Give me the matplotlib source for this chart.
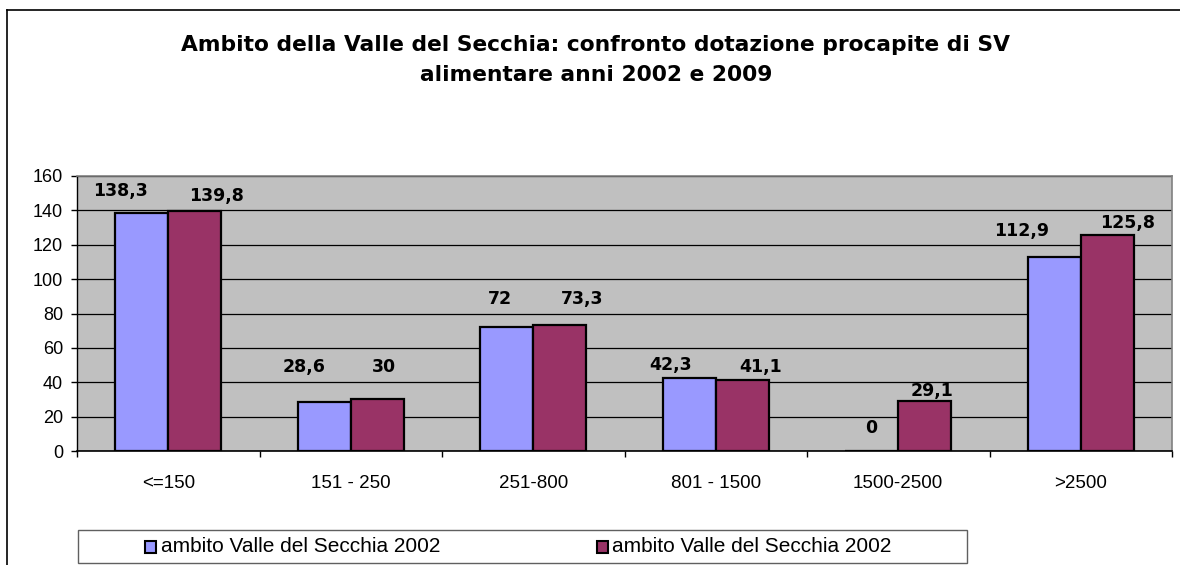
import matplotlib
matplotlib.use("Agg")
import matplotlib.pyplot as plt
from matplotlib.lines import Line2D
from matplotlib.patches import Rectangle
import numpy as np

categories = ["<=150", "151 - 250", "251-800", "801 - 1500", "1500-2500", ">2500"]
series_2002 = [138.3, 28.6, 72, 42.3, 0, 112.9]
series_2009 = [139.8, 30, 73.3, 41.1, 29.1, 125.8]
series_names = ["ambito Valle del Secchia 2002", "ambito Valle del Secchia 2002"]
title = "Ambito della Valle del Secchia: confronto dotazione procapite di SV\nalimentare anni 2002 e 2009"
yticks = [0, 20, 40, 60, 80, 100, 120, 140, 160]

# label offsets in pixels (dx, dy of text centre from top-centre of bar), as placed in the original
label_off_2002 = [(-21, 22), (-20, 35), (-7, 28), (-19, 13), (-1, 23), (-33, 26)]
label_off_2009 = [(22, 15), (7, 32), (22, 26), (18, 13), (7, 10), (20, 12)]

W, H = 1180, 565
fig = plt.figure(figsize=(W / 100, H / 100), dpi=100)
fig.patch.set_facecolor("white")

ax = fig.add_axes([77 / W, 1 - 451 / H, (1172 - 77) / W, (451 - 176) / H])
ax.set_facecolor("#C0C0C0")

x = np.arange(len(categories))
bw = 0.29
c1, c2 = "#9999FF", "#993366"
ax.bar(x - bw / 2, series_2002, bw, color=c1, edgecolor="black", linewidth=1.6, zorder=3)
ax.bar(x + bw / 2, series_2009, bw, color=c2, edgecolor="black", linewidth=1.6, zorder=3)

lblfont = dict(fontsize=12.5, fontweight="bold", family="DejaVu Sans", color="black")
for xs, vals, offs in ((x - bw / 2, series_2002, label_off_2002),
                       (x + bw / 2, series_2009, label_off_2009)):
    for xi, v, (dx, dy) in zip(xs, vals, offs):
        txt = ("%g" % v).replace(".", ",")
        ax.annotate(txt, (xi, v), xytext=(dx, dy), textcoords="offset pixels",
                    ha="center", va="center", zorder=5, **lblfont)

ax.set_xlim(-0.5, len(categories) - 0.5)
ax.set_ylim(0, 160)
ax.set_yticks(yticks)
ax.set_yticklabels([str(t) for t in yticks], fontsize=13, family="Liberation Sans")
ax.yaxis.grid(True, color="black", linewidth=0.9, zorder=1)
ax.set_axisbelow(True)

ax.set_xticks(x)
ax.set_xticklabels(categories, fontsize=13.5, family="Liberation Sans")
ax.set_xticks(np.arange(-0.5, len(categories), 1.0), minor=True)
ax.tick_params(axis="x", which="major", length=0, pad=17)
ax.tick_params(axis="x", which="minor", length=4.5, width=1, color="black", direction="out")
ax.tick_params(axis="y", length=4, width=1, direction="out", pad=6)

for s in ["top", "right"]:
    ax.spines[s].set_color("#808080")
    ax.spines[s].set_linewidth(1.2)
ax.spines["left"].set_color("black")
ax.spines["bottom"].set_color("black")
ax.spines["left"].set_linewidth(1.0)
ax.spines["bottom"].set_linewidth(1.2)

fig.text(0.505, 1 - 60 / H, title, ha="center", va="center", fontsize=15.7,
         fontweight="bold", family="DejaVu Sans", linespacing=1.68)

# legend box drawn by hand to match the original layout
fig.add_artist(Rectangle((78 / W, 1 - 563 / H), (967 - 78) / W, 33 / H,
                         transform=fig.transFigure, facecolor="white",
                         edgecolor="#606060", linewidth=1.0))
ly = 1 - 547 / H
for (mx, tx), col, name in zip([(145, 161), (597, 612)], [c1, c2], series_names):
    fig.add_artist(Rectangle((mx / W, ly - 6 / H), 11 / W, 12 / H,
                             transform=fig.transFigure, facecolor=col,
                             edgecolor="black", linewidth=1.5))
    fig.text(tx / W, ly, name, ha="left", va="center", fontsize=15,
             family="Liberation Sans")

fig.add_artist(Line2D([7 / W, 7 / W], [0, 1 - 10 / H], color="black", linewidth=1.2,
                      transform=fig.transFigure))
fig.add_artist(Line2D([7 / W, 1], [1 - 10 / H, 1 - 10 / H], color="black", linewidth=1.2,
                      transform=fig.transFigure))

fig.savefig("out.png", dpi=100)
